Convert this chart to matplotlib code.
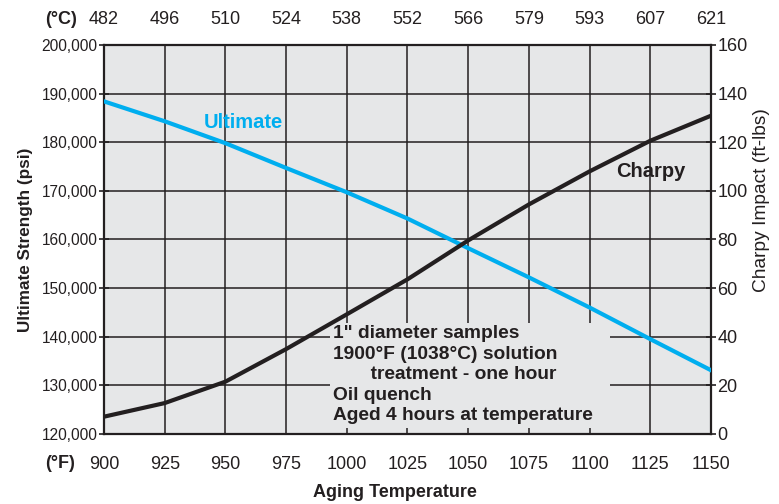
import numpy as np
import matplotlib
matplotlib.use("Agg")
import matplotlib.pyplot as plt
from matplotlib.patches import Rectangle

plt.rcParams['font.family'] = ['Liberation Sans', 'DejaVu Sans']

# aging temperature (F) and matching C labels
temp_f = [900, 925, 950, 975, 1000, 1025, 1050, 1075, 1100, 1125, 1150]
temp_c = ['482', '496', '510', '524', '538', '552', '566', '579', '593', '607', '621']

# values
ultimate = [188400, 184300, 179800, 174700, 169700, 164300, 158200, 152200, 146000, 139500, 133100]
charpy = [7.1, 12.7, 21.5, 34.9, 49.2, 63.6, 79.6, 94.4, 108.0, 120.6, 130.9]

psi_ticks = list(range(120000, 200001, 10000))
charpy_ticks = list(range(0, 161, 20))

note = ('1" diameter samples\n'
        '1900°F (1038°C) solution\n'
        '       treatment - one hour\n'
        'Oil quench\n'
        'Aged 4 hours at temperature')

dark = '#231F20'
blue = '#00AEEF'
bg = '#E6E7E8'

fig = plt.figure(figsize=(7.79, 5.04), dpi=100)
ax = fig.add_axes([0.1335, 0.139, 0.7792, 0.7718])
ax.set_facecolor(bg)
ax.set_xlim(900, 1150)
ax.set_ylim(120000, 200000)
ax.set_xticks(temp_f)
ax.set_yticks(psi_ticks)
ax.set_yticklabels([f'{v:,}' for v in psi_ticks])
ax.grid(True, color=dark, lw=1.1)
ax.set_axisbelow(True)
ax.tick_params(axis='x', length=0, pad=16, labelsize=13, labelcolor=dark)
ax.tick_params(axis='y', direction='inout', length=7, width=1.2, color=dark,
               pad=1, labelsize=11.2, labelcolor=dark)
for s in ax.spines.values():
    s.set_color(dark)
    s.set_linewidth(1.6)

# note box hides the grid behind the text
ax.add_patch(Rectangle((0.372, 0.015), 0.462, 0.27, transform=ax.transAxes,
                       facecolor=bg, edgecolor='none', zorder=2))
ax.text(0.377, 0.279, note, transform=ax.transAxes, fontsize=13.8, fontweight='bold',
        color=dark, va='top', ha='left', linespacing=1.26, zorder=3)

ax.plot(temp_f, ultimate, color=blue, lw=3, zorder=4)
ax.text(941, 184000, 'Ultimate', color=blue, fontsize=14.5, fontweight='bold',
        va='center', ha='left', zorder=5)
ax.set_ylabel('Ultimate Strength (psi)', fontsize=12.3, fontweight='bold', color=dark, labelpad=6)

ax2 = ax.twinx()
ax2.set_ylim(0, 160)
ax2.set_yticks(charpy_ticks)
ax2.tick_params(axis='y', direction='inout', length=7, width=1.2, color=dark,
                pad=1, labelsize=13, labelcolor=dark)
for s in ax2.spines.values():
    s.set_visible(False)
ax2.plot(temp_f, charpy, color=dark, lw=3, zorder=4)
ax2.text(1111, 108, 'Charpy', color=dark, fontsize=14.5, fontweight='bold',
         va='center', ha='left')
ax2.set_ylabel('Charpy Impact (ft-lbs)', fontsize=13.8, color=dark)
ax2.yaxis.set_label_coords(1.07, 0.6)

top = ax.secondary_xaxis('top')
top.set_xticks(temp_f)
top.set_xticklabels(temp_c)
top.tick_params(length=0, pad=12, labelsize=13, labelcolor=dark)
top.spines['top'].set_visible(False)

fig.text(0.058, 0.962, '(°C)', fontsize=13, fontweight='bold', color=dark, ha='left', va='center')
fig.text(0.058, 0.081, '(°F)', fontsize=13, fontweight='bold', color=dark, ha='left', va='center')
fig.text(0.507, 0.022, 'Aging Temperature', fontsize=13, fontweight='bold', color=dark,
         ha='center', va='center')

fig.savefig('out.png', dpi=100)
